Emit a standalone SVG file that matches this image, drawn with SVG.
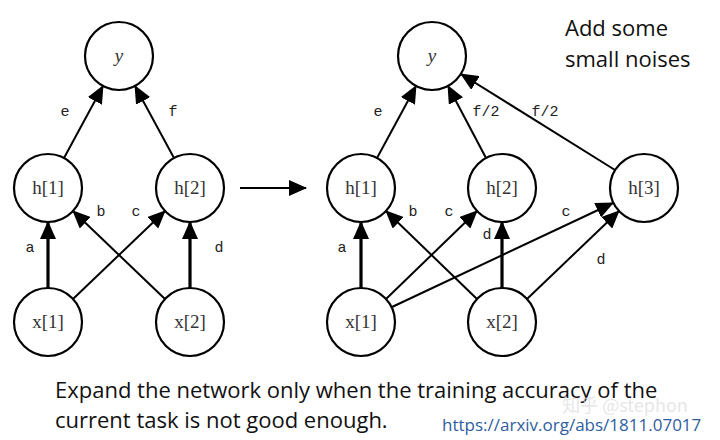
<svg xmlns="http://www.w3.org/2000/svg" width="720" height="440" viewBox="0 0 720 440">
<style>
.n{fill:#fff;stroke:#000;stroke-width:2.2}
.t{font-family:"Liberation Serif",serif;font-size:19px;fill:#333;text-anchor:middle}
.e{stroke:#000;stroke-width:2;fill:none;marker-end:url(#ah)}
.k{stroke-width:3.2}
.l{font-family:"Liberation Mono",monospace;font-size:15px;fill:#222;text-anchor:middle}
.s{font-family:"Open Sans","Liberation Sans",sans-serif;font-size:22px;fill:#111}
</style>
<defs>
<marker id="ah" markerUnits="userSpaceOnUse" markerWidth="18" markerHeight="16" refX="17" refY="8" orient="auto">
<path d="M0,0 L18,8 L0,16 Z" fill="#000"/>
</marker>
</defs>
<rect width="720" height="440" fill="#fff"/>
<g id="connectors">
<line class="e" x1="64" y1="158" x2="103" y2="86"/>
<line class="e" x1="174" y1="158" x2="135" y2="86"/>
<line class="e k" x1="48" y1="288" x2="48" y2="222"/>
<line class="e" x1="73" y1="299" x2="165" y2="211"/>
<line class="e" x1="165" y1="299" x2="73" y2="211"/>
<line class="e k" x1="190" y1="288" x2="190" y2="222"/>
<line class="e" x1="240" y1="188" x2="306" y2="188"/>
<line class="e" x1="377" y1="158" x2="416" y2="86"/>
<line class="e" x1="486" y1="158" x2="448" y2="86"/>
<line class="e" x1="615" y1="170" x2="461" y2="74"/>
<line class="e k" x1="361" y1="288" x2="361" y2="222"/>
<line class="e" x1="386" y1="299" x2="477" y2="211"/>
<line class="e" x1="477" y1="299" x2="386" y2="211"/>
<line class="e k" x1="502" y1="288" x2="502" y2="222"/>
<line class="e" x1="392" y1="307" x2="613" y2="203"/>
<line class="e" x1="527" y1="299" x2="619" y2="211"/>
</g>
<g id="edge-labels">
<text class="l" x="65" y="116">e</text><text class="l" x="173" y="116">f</text>
<text class="l" x="101" y="216">b</text><text class="l" x="136" y="216">c</text>
<text class="l" x="30" y="252">a</text><text class="l" x="219" y="252">d</text>
<text class="l" x="378" y="116">e</text><text class="l" x="486" y="116">f/2</text><text class="l" x="545" y="116">f/2</text>
<text class="l" x="413" y="216">b</text><text class="l" x="449" y="216">c</text><text class="l" x="566" y="216">c</text>
<text class="l" x="487" y="239">d</text><text class="l" x="342" y="252">a</text><text class="l" x="601" y="264">d</text>
</g>
<g id="L-y"><circle class="n" cx="119" cy="56" r="34"/><text class="t" x="119" y="62" font-style="italic">y</text></g>
<g id="L-h1"><circle class="n" cx="48" cy="188" r="34"/><text class="t" x="48" y="194">h[1]</text></g>
<g id="L-h2"><circle class="n" cx="190" cy="188" r="34"/><text class="t" x="190" y="194">h[2]</text></g>
<g id="L-x1"><circle class="n" cx="48" cy="322" r="34"/><text class="t" x="48" y="328">x[1]</text></g>
<g id="L-x2"><circle class="n" cx="190" cy="322" r="34"/><text class="t" x="190" y="328">x[2]</text></g>
<g id="R-y"><circle class="n" cx="432" cy="56" r="34"/><text class="t" x="432" y="62" font-style="italic">y</text></g>
<g id="R-h1"><circle class="n" cx="361" cy="188" r="34"/><text class="t" x="361" y="194">h[1]</text></g>
<g id="R-h2"><circle class="n" cx="502" cy="188" r="34"/><text class="t" x="502" y="194">h[2]</text></g>
<g id="R-h3"><circle class="n" cx="644" cy="188" r="34"/><text class="t" x="644" y="194">h[3]</text></g>
<g id="R-x1"><circle class="n" cx="361" cy="322" r="34"/><text class="t" x="361" y="328">x[1]</text></g>
<g id="R-x2"><circle class="n" cx="502" cy="322" r="34"/><text class="t" x="502" y="328">x[2]</text></g>
<text class="s" x="565" y="36">Add some</text>
<text class="s" x="565" y="67">small noises</text>
<text class="s" x="55" y="398">Expand the network only when the training accuracy of the</text>
<text class="s" x="55" y="428">current task is not good enough.</text>
<text x="625" y="412" font-family="'Noto Sans CJK SC','Liberation Sans',sans-serif" font-size="18" fill="#ddd" text-anchor="middle" opacity="0.7">知乎 @stephon</text>
<text x="442" y="431" font-family="'Open Sans','Liberation Sans',sans-serif" font-size="17" fill="#2e5d9f">https://arxiv.org/abs/1811.07017</text>
</svg>
